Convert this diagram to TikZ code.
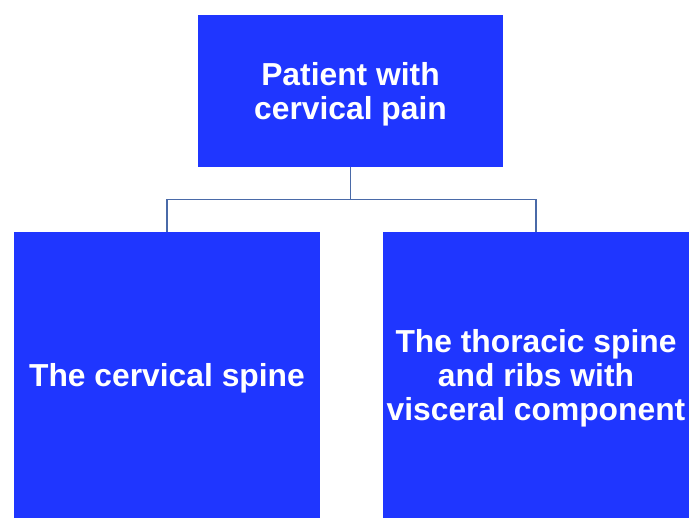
\documentclass[tikz,border=0pt]{standalone}
\usepackage{fontspec}
\setmainfont{Liberation Sans}
\usepackage{tikz}
\definecolor{boxblue}{HTML}{1F36FF}
\definecolor{linkblue}{HTML}{4A6AA8}

\begin{document}
\begin{tikzpicture}[x=1pt,y=-1pt,
  box/.style={fill=boxblue,text=white,align=center,inner sep=0pt,text depth=0pt,
    font=\fontsize{31.8}{33.6}\selectfont\bfseries},
  link/.style={draw=linkblue,line width=1.2pt}]
\useasboundingbox (0,0) rectangle (691,518);
\node[box,minimum width=305pt,minimum height=152pt] (a) at (350.5,91) {Patient with\\
cervical pain};
\node[box,minimum width=306pt,minimum height=286pt] (b) at (167,375) {The cervical spine};
\node[box,minimum width=306pt,minimum height=286pt] (c) at (536,375) {The thoracic spine\\
and ribs with\\
visceral component};
\draw[link] (a.south) -- ++(0,32.5) -| (b.north);
\draw[link] (a.south) -- ++(0,32.5) -| (c.north);
\end{tikzpicture}
\end{document}
